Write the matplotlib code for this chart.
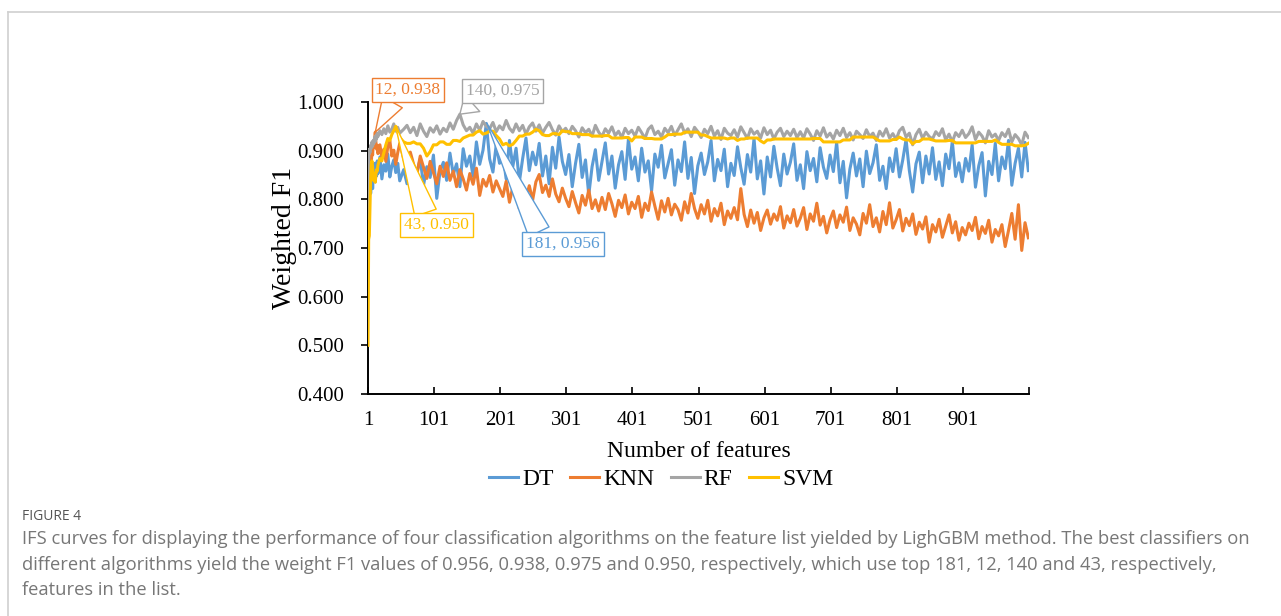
import matplotlib.pyplot as plt
from matplotlib.lines import Line2D

# ---------- Data ----------
# number of features used (category axis of the IFS curve)
features = list(range(1, 16)) + list(range(16, 50, 3)) + list(range(55, 1001, 5))

dt_f1 = [
    0.802, 0.783, 0.826, 0.851, 0.812, 0.838, 0.869, 0.822, 0.857, 0.843, 0.874, 0.836, 0.861, 0.848, 0.879,
    0.853, 0.887, 0.842, 0.871, 0.858, 0.893, 0.846, 0.868, 0.881, 0.855, 0.874, 0.838,
    0.861, 0.832, 0.874, 0.818, 0.856, 0.883, 0.829, 0.867, 0.845, 0.891,
    0.802, 0.858, 0.876, 0.839, 0.895, 0.851, 0.873, 0.826, 0.904, 0.868,
    0.889, 0.847, 0.918, 0.872, 0.901, 0.956, 0.883, 0.856, 0.912, 0.874,
    0.893, 0.842, 0.921, 0.867, 0.905, 0.836, 0.884, 0.926, 0.859, 0.897,
    0.871, 0.915, 0.848, 0.889, 0.832, 0.907, 0.864, 0.928, 0.878, 0.851,
    0.892, 0.826, 0.874, 0.913, 0.845, 0.881, 0.809, 0.867, 0.902, 0.839,
    0.878, 0.916, 0.852, 0.889, 0.823, 0.871, 0.898, 0.841, 0.924, 0.862,
    0.887, 0.838, 0.905, 0.856, 0.879, 0.817, 0.893, 0.866, 0.911, 0.844,
    0.873, 0.902, 0.829, 0.881, 0.857, 0.918, 0.843, 0.886, 0.812, 0.869,
    0.895, 0.851, 0.877, 0.921, 0.838, 0.882, 0.859, 0.903, 0.826, 0.874,
    0.849, 0.908, 0.865, 0.831, 0.892, 0.856, 0.925, 0.842, 0.879, 0.811,
    0.887, 0.846, 0.909, 0.864, 0.828, 0.893, 0.852, 0.876, 0.914, 0.839,
    0.871, 0.822, 0.898, 0.859, 0.884, 0.836, 0.906, 0.866, 0.843, 0.891,
    0.857, 0.917, 0.834, 0.878, 0.803, 0.862, 0.895, 0.848, 0.883, 0.826,
    0.899, 0.853, 0.875, 0.912, 0.839, 0.868, 0.822, 0.885, 0.857, 0.904,
    0.846, 0.881, 0.923, 0.859, 0.815, 0.873, 0.897, 0.834, 0.889, 0.852,
    0.906, 0.841, 0.877, 0.828, 0.893, 0.863, 0.919, 0.847, 0.875, 0.836,
    0.884, 0.858, 0.912, 0.825, 0.869, 0.896, 0.807, 0.878, 0.851, 0.915,
    0.838, 0.887, 0.863, 0.921, 0.829, 0.874, 0.905, 0.846, 0.917, 0.859,
]

knn_f1 = [
    0.731, 0.842, 0.866, 0.858, 0.887, 0.874, 0.902, 0.891, 0.915, 0.906, 0.924, 0.938, 0.917, 0.903, 0.911,
    0.894, 0.912, 0.885, 0.903, 0.878, 0.909, 0.921, 0.889, 0.901, 0.872, 0.896, 0.915,
    0.884, 0.861, 0.897, 0.872, 0.851, 0.889, 0.866, 0.843, 0.878, 0.855,
    0.832, 0.868, 0.847, 0.875, 0.839, 0.858, 0.826, 0.861, 0.842, 0.819,
    0.853, 0.831, 0.864, 0.808, 0.841, 0.827, 0.849, 0.815, 0.838, 0.822,
    0.806, 0.837, 0.794, 0.825, 0.812, 0.781, 0.819, 0.803, 0.828, 0.798,
    0.836, 0.851, 0.814, 0.829, 0.806, 0.842, 0.811, 0.795, 0.823, 0.802,
    0.785, 0.816, 0.793, 0.772, 0.808, 0.788, 0.819, 0.781, 0.799, 0.776,
    0.804, 0.779, 0.812, 0.791, 0.765, 0.798, 0.783, 0.809, 0.770, 0.794,
    0.781, 0.806, 0.763, 0.792, 0.777, 0.815, 0.786, 0.759, 0.797, 0.774,
    0.802, 0.768, 0.790, 0.779, 0.757, 0.795, 0.772, 0.812, 0.781, 0.761,
    0.789, 0.770, 0.798, 0.755, 0.781, 0.766, 0.792, 0.748, 0.776, 0.761,
    0.783, 0.758, 0.822, 0.769, 0.744, 0.778, 0.751, 0.773, 0.736, 0.762,
    0.778, 0.749, 0.770, 0.757, 0.785, 0.741, 0.766, 0.752, 0.779, 0.745,
    0.761, 0.783, 0.738, 0.770, 0.755, 0.792, 0.747, 0.765, 0.731, 0.758,
    0.776, 0.742, 0.768, 0.753, 0.784, 0.736, 0.762, 0.749, 0.727, 0.771,
    0.751, 0.789, 0.744, 0.762, 0.733, 0.775, 0.748, 0.793, 0.741, 0.758,
    0.779, 0.735, 0.761, 0.746, 0.770, 0.728, 0.753, 0.739, 0.764, 0.712,
    0.748, 0.733, 0.759, 0.722, 0.745, 0.768, 0.731, 0.754, 0.716, 0.742,
    0.727, 0.751, 0.736, 0.763, 0.719, 0.744, 0.730, 0.757, 0.712, 0.738,
    0.725, 0.748, 0.703, 0.736, 0.771, 0.718, 0.789, 0.695, 0.752, 0.721,
]

rf_f1 = [
    0.762, 0.885, 0.903, 0.896, 0.911, 0.905, 0.918, 0.909, 0.921, 0.915, 0.928, 0.919, 0.931, 0.924, 0.936,
    0.929, 0.941, 0.933, 0.945, 0.935, 0.951, 0.938, 0.944, 0.955, 0.940, 0.948, 0.936,
    0.944, 0.952, 0.937, 0.948, 0.931, 0.955, 0.940, 0.929, 0.947, 0.938,
    0.951, 0.934, 0.946, 0.939, 0.957, 0.944, 0.962, 0.975, 0.953, 0.941,
    0.948, 0.936, 0.955, 0.942, 0.960, 0.950, 0.945, 0.958, 0.939, 0.951,
    0.943, 0.962, 0.946, 0.938, 0.955, 0.941, 0.952, 0.934, 0.949, 0.957,
    0.940, 0.953, 0.936, 0.948, 0.958, 0.943, 0.932, 0.951, 0.939, 0.946,
    0.935, 0.950, 0.941, 0.928, 0.947, 0.937, 0.944, 0.930, 0.952, 0.938,
    0.929, 0.945, 0.936, 0.949, 0.931, 0.940, 0.927, 0.946, 0.935, 0.942,
    0.930, 0.948, 0.937, 0.925, 0.944, 0.951, 0.933, 0.940, 0.928, 0.946,
    0.937, 0.950, 0.931, 0.943, 0.955, 0.936, 0.945, 0.929, 0.948, 0.939,
    0.927, 0.944, 0.935, 0.950, 0.930, 0.941, 0.923, 0.946, 0.936, 0.931,
    0.943, 0.928, 0.949, 0.937, 0.925, 0.945, 0.934, 0.940, 0.926, 0.947,
    0.933, 0.942, 0.924, 0.938, 0.946, 0.929, 0.940, 0.931, 0.944, 0.927,
    0.939, 0.926, 0.945, 0.934, 0.921, 0.941, 0.930, 0.947, 0.928, 0.936,
    0.924, 0.942, 0.931, 0.946, 0.927, 0.937, 0.922, 0.940, 0.933, 0.925,
    0.943, 0.929, 0.936, 0.921, 0.940, 0.930, 0.945, 0.926, 0.935, 0.923,
    0.941, 0.948, 0.928, 0.936, 0.912, 0.933, 0.944, 0.925, 0.938, 0.929,
    0.924, 0.939, 0.931, 0.945, 0.922, 0.934, 0.918, 0.937, 0.929, 0.942,
    0.927, 0.935, 0.949, 0.923, 0.938, 0.930, 0.916, 0.941, 0.928, 0.934,
    0.921, 0.937, 0.929, 0.944, 0.918, 0.933, 0.925, 0.912, 0.938, 0.927,
]

svm_f1 = [
    0.500, 0.718, 0.725, 0.781, 0.843, 0.872, 0.879, 0.866, 0.851, 0.838, 0.846, 0.835, 0.852, 0.861, 0.858,
    0.870, 0.884, 0.879, 0.896, 0.912, 0.925, 0.921, 0.933, 0.941, 0.950, 0.938, 0.927,
    0.918, 0.915, 0.915, 0.918, 0.914, 0.914, 0.905, 0.889, 0.898, 0.912,
    0.912, 0.918, 0.918, 0.913, 0.913, 0.921, 0.921, 0.919, 0.926, 0.929,
    0.932, 0.932, 0.938, 0.941, 0.934, 0.936, 0.940, 0.940, 0.931, 0.924,
    0.912, 0.915, 0.910, 0.913, 0.921, 0.930, 0.930, 0.934, 0.934, 0.938,
    0.944, 0.941, 0.933, 0.931, 0.931, 0.935, 0.935, 0.933, 0.941, 0.939,
    0.939, 0.935, 0.935, 0.935, 0.933, 0.933, 0.933, 0.930, 0.930, 0.930,
    0.930, 0.931, 0.931, 0.926, 0.926, 0.926, 0.926, 0.927, 0.927, 0.920,
    0.928, 0.928, 0.928, 0.925, 0.925, 0.925, 0.924, 0.924, 0.924, 0.928,
    0.933, 0.933, 0.934, 0.934, 0.934, 0.938, 0.938, 0.938, 0.938, 0.938,
    0.932, 0.932, 0.929, 0.926, 0.926, 0.926, 0.926, 0.926, 0.924, 0.926,
    0.926, 0.921, 0.924, 0.924, 0.926, 0.926, 0.926, 0.926, 0.920, 0.916,
    0.922, 0.922, 0.924, 0.924, 0.924, 0.924, 0.924, 0.924, 0.924, 0.924,
    0.924, 0.924, 0.924, 0.924, 0.925, 0.925, 0.925, 0.918, 0.918, 0.918,
    0.918, 0.918, 0.918, 0.922, 0.922, 0.922, 0.928, 0.928, 0.928, 0.928,
    0.928, 0.928, 0.928, 0.924, 0.920, 0.920, 0.920, 0.920, 0.923, 0.923,
    0.928, 0.924, 0.922, 0.922, 0.914, 0.919, 0.919, 0.924, 0.924, 0.924,
    0.922, 0.920, 0.920, 0.920, 0.920, 0.921, 0.921, 0.916, 0.916, 0.916,
    0.916, 0.916, 0.916, 0.916, 0.919, 0.919, 0.919, 0.919, 0.919, 0.922,
    0.917, 0.913, 0.913, 0.913, 0.913, 0.910, 0.910, 0.910, 0.911, 0.915,
]

series_names = ["DT", "KNN", "RF", "SVM"]
series_colors = ["#5B9BD5", "#ED7D31", "#A5A5A5", "#FFC000"]

# best point of each classifier and where its callout box sits
best_x = [181, 12, 140, 43]
best_y = [0.956, 0.938, 0.975, 0.950]
label_pos = [(296, 0.708), (61.5, 1.025), (205, 1.023), (105, 0.747)]
label_relpos = [(0.2, 1.0), (0.3, 0.0), (0.15, 0.0), (0.35, 1.0)]

x_ticks = list(range(1, 1002, 100))
x_tick_labels = [str(t) for t in x_ticks[:-1]] + [""]

caption_head = "FIGURE 4"
caption_lines = [
    "IFS curves for displaying the performance of four classification algorithms on the feature list "
    "yielded by LighGBM method. The best classifiers on",
    "different algorithms yield the weight F1 values of 0.956, 0.938, 0.975 and 0.950, respectively, "
    "which use top 181, 12, 140 and 43, respectively,",
    "features in the list.",
]

# ---------- Plot ----------
plt.rcParams['font.family'] = 'Liberation Serif'

fig = plt.figure(figsize=(12.81, 6.16), dpi=100)
ax = fig.add_axes([368 / 1281, 1 - 394 / 616, 661 / 1281, 292 / 616])

all_series = [dt_f1, knn_f1, rf_f1, svm_f1]
for vals, name, col in zip(all_series, series_names, series_colors):
    ax.plot(features, vals, color=col, lw=2.2, label=name, zorder=3)

ax.set_xlim(1, 1001)
ax.set_ylim(0.4, 1.0)
ax.set_yticks([0.4, 0.5, 0.6, 0.7, 0.8, 0.9, 1.0])
ax.set_yticklabels(["%.3f" % v for v in ax.get_yticks()])
ax.set_xticks(x_ticks)
ax.set_xticklabels(x_tick_labels)

for s in ["top", "right"]:
    ax.spines[s].set_visible(False)
for s in ["left", "bottom"]:
    ax.spines[s].set_linewidth(1.4)
    ax.spines[s].set_color("black")

ax.tick_params(axis='y', direction='out', length=5, width=1.2, labelsize=15, pad=12)
ax.tick_params(axis='x', direction='in', length=5, width=1.2, labelsize=15, pad=12)

ax.set_xlabel("Number of features", fontsize=17, labelpad=8)
ax.set_ylabel("Weighted F1", fontsize=20)
ax.yaxis.set_label_coords(-0.108, 0.535)

# callouts for the best point of each classifier
for bx, by, pos, rp, col in zip(best_x, best_y, label_pos, label_relpos, series_colors):
    ax.annotate("%d, %.3f" % (bx, by), xy=(bx, by), xytext=pos, textcoords='data',
                ha='center', va='center', fontsize=12.5, color=col,
                bbox=dict(boxstyle='square,pad=0.22', fc='white', ec=col, lw=1),
                arrowprops=dict(arrowstyle='wedge,tail_width=1.3', fc='white', ec=col, lw=1,
                                relpos=rp, shrinkA=0, shrinkB=0),
                annotation_clip=False, zorder=10)

handles = [Line2D([], [], color=c, lw=2.2) for c in series_colors]
fig.legend(handles, series_names, loc='center', bbox_to_anchor=(661 / 1281, 1 - 479 / 616),
           ncol=4, frameon=False, fontsize=17, handlelength=1.25, handletextpad=0.15,
           columnspacing=0.7)

# card frame and caption
fig.add_artist(Line2D([8 / 1281, 1], [1 - 12 / 616, 1 - 12 / 616], color="#d0d0d0", lw=1.2))
fig.add_artist(Line2D([8 / 1281, 8 / 1281], [0, 1 - 12 / 616], color="#d0d0d0", lw=1.2))

fig.text(22 / 1281, 1 - 516 / 616, caption_head, family='Open Sans', fontsize=10,
         color="#555555", va='center', ha='left')
for i, line in enumerate(caption_lines):
    fig.text(22 / 1281, 1 - (539 + 25.5 * i) / 616, line, family='Open Sans', fontsize=13.2,
             color="#777777", va='center', ha='left')

fig.savefig("out.png", dpi=100)
